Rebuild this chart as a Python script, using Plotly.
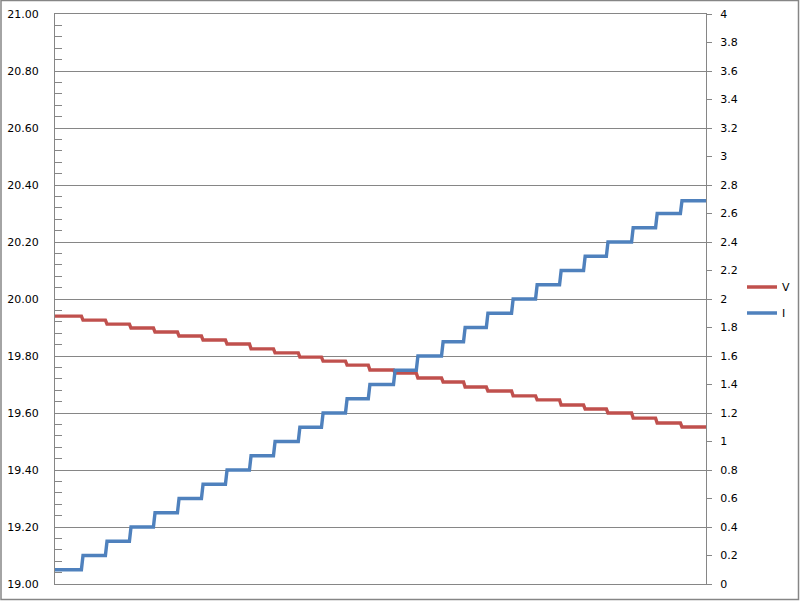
import plotly.graph_objects as go

# sample index where each step level begins (last entry = end of the record)
step_start = [0, 70, 130, 190, 250, 310, 370, 430, 490, 550, 612, 670, 730, 787,
              850, 907, 970, 1025, 1082, 1145, 1205, 1265, 1325, 1382, 1445, 1505,
              1567, 1627]

# voltage (left axis)
v_level = [19.940, 19.926, 19.912, 19.898, 19.884, 19.870, 19.856, 19.842, 19.825,
           19.811, 19.796, 19.782, 19.768, 19.751, 19.740, 19.723, 19.709, 19.691,
           19.677, 19.660, 19.646, 19.628, 19.614, 19.600, 19.582, 19.565, 19.551]

# current (right axis)
i_level = [0.10, 0.20, 0.30, 0.40, 0.50, 0.60, 0.70, 0.80, 0.90, 1.00, 1.10, 1.20,
           1.30, 1.40, 1.50, 1.60, 1.70, 1.80, 1.90, 2.00, 2.10, 2.20, 2.30, 2.40,
           2.50, 2.60, 2.69]

RAMP = 4  # samples taken by each transition


def stepped(levels):
    xs, ys = [], []
    for k, lvl in enumerate(levels):
        end = step_start[k + 1] - (RAMP if k < len(levels) - 1 else 0)
        xs += [step_start[k], end]
        ys += [lvl, lvl]
    return xs, ys


GRID = "#868686"
FONT = "DejaVu Sans"

fig = go.Figure()

vx, vy = stepped(v_level)
fig.add_trace(go.Scatter(x=vx, y=vy, name="V", mode="lines",
                         line=dict(color="#C0504D", width=3.4),
                         legendgroup="v", yaxis="y"))

ix, iy = stepped(i_level)
fig.add_trace(go.Scatter(x=ix, y=iy, name="I", mode="lines",
                         line=dict(color="#4F81BD", width=3.4),
                         legendgroup="i", yaxis="y2"))

W, H = 800, 601
ml, mr, mt, mb = 55, 94, 14, 17
pw, ph = W - ml - mr, H - mt - mb

fig.update_layout(
    width=W, height=H,
    margin=dict(l=ml, r=mr, t=mt, b=mb, pad=0, autoexpand=False),
    paper_bgcolor="white", plot_bgcolor="white",
    font=dict(family=FONT, size=11, color="black"),
    showlegend=True,
    legend=dict(x=1 + 36 / pw, xanchor="left", y=0.5 - 1 / ph, yanchor="middle",
                traceorder="grouped", tracegroupgap=7, itemwidth=30,
                bgcolor="rgba(0,0,0,0)", font=dict(family=FONT, size=11)),
    xaxis=dict(range=[0, step_start[-1]], showgrid=False, showticklabels=False,
               ticks="", showline=True, linecolor=GRID, linewidth=1,
               mirror=True, zeroline=False, automargin=False),
    yaxis=dict(range=[19, 21], dtick=0.2, tick0=19, tickformat=".2f",
               showgrid=True, gridcolor=GRID, gridwidth=1,
               showline=True, linecolor=GRID, linewidth=1,
               ticks="inside", ticklen=7, tickcolor=GRID,
               minor=dict(dtick=0.04, ticks="inside", ticklen=7, tickcolor=GRID,
                          showgrid=False),
               ticklabelstandoff=13, zeroline=False, automargin=False),
    yaxis2=dict(range=[0, 4], dtick=0.2, tick0=0, overlaying="y", side="right",
                showgrid=False, showline=True, linecolor=GRID, linewidth=1,
                ticks="outside", ticklen=5, tickcolor=GRID,
                ticklabelstandoff=6, zeroline=False, automargin=False),
    shapes=[dict(type="rect", xref="paper", yref="paper",
                 x0=-(ml - 1) / pw, x1=1 + (mr - 1.5) / pw,
                 y0=-(mb - 1.5) / ph, y1=1 + (mt - 0.5) / ph,
                 line=dict(color=GRID, width=1.5), layer="below")],
)

# drop the page's default 8px body margin so the chart fills the window
fig.write_html("out.html",
               config={"displayModeBar": False},
               post_script="document.body.style.margin='0';"
                           "document.body.style.overflow='hidden';")
